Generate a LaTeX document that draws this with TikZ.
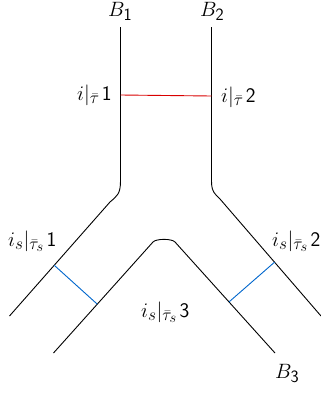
\documentclass[tikz,border=0pt]{standalone}
\usepackage{amsmath}
\usetikzlibrary{calc}
\DeclareMathSizes{21}{21}{17}{14}
\tikzset{
  lbl/.style={inner sep=0pt, anchor=base west, font=\fontsize{21}{25}\selectfont},
  wire/.style={black, line width=0.9pt},
  redlink/.style={red!85!black, line width=0.9pt},
  bluelink/.style={blue!50!cyan!80!black, line width=0.9pt}
}
\newcommand{\dg}[1]{\mkern2mu\mathsf{#1}}
\begin{document}
\begin{tikzpicture}[x=1pt,y=-1pt]
\useasboundingbox (0,0) rectangle (321,394);
% outer left leg
\coordinate (L0) at (120.5,27);
\coordinate (L1) at (120.5,181);
\coordinate (L2) at (110,202);
\coordinate (L3) at (9.5,316);
\draw[wire] (L0) -- (L1) .. controls (120.5,194) and (117,196) .. (L2) -- (L3);
% outer right leg
\coordinate (R0) at (211.5,27);
\coordinate (R1) at (211.5,181);
\coordinate (R2) at (220,199);
\coordinate (R3) at (321,316);
\draw[wire] (R0) -- (R1) .. controls (211.5,192) and (215,194) .. (R2) -- (R3);
% inner V
\coordinate (V0) at (53.5,353);
\coordinate (V1) at (153,242);
\coordinate (V2) at (175,242);
\coordinate (V3) at (275,353);
\draw[wire] (V0) -- (V1) .. controls (156,238.5) and (172,238.5) .. (V2) -- (V3);
% red link
\coordinate (ra) at (120.5,95);
\coordinate (rb) at (211.5,96);
\draw[redlink] (ra) -- (rb);
% blue links
\coordinate (bl1) at ($(L2)!0.555!(L3)$);
\coordinate (bl2) at ($(V0)!0.44!(V1)$);
\draw[bluelink] (bl1) -- (bl2);
\coordinate (br1) at ($(R2)!0.54!(R3)$);
\coordinate (br2) at ($(V3)!0.46!(V2)$);
\draw[bluelink] (br1) -- (br2);
% labels
\node[lbl] (B1) at (108,16) {$B_{\mathsf{1}}$};
\node[lbl] (B2) at (200,16) {$B_{\mathsf{2}}$};
\node[lbl] (B3) at (275,378) {$B_{\mathsf{3}}$};
\node[lbl] (t1) at (77,100) {$i|_{\bar\tau}\dg{1}$};
\node[lbl] (t2) at (221,102) {$i|_{\bar\tau}\dg{2}$};
\node[lbl] (s1) at (8,246) {$i_s|_{\bar\tau_s}\dg{1}$};
\node[lbl] (s2) at (272,246) {$i_s|_{\bar\tau_s}\dg{2}$};
\node[lbl] (s3) at (141,317) {$i_s|_{\bar\tau_s}\dg{3}$};
\end{tikzpicture}
\end{document}
